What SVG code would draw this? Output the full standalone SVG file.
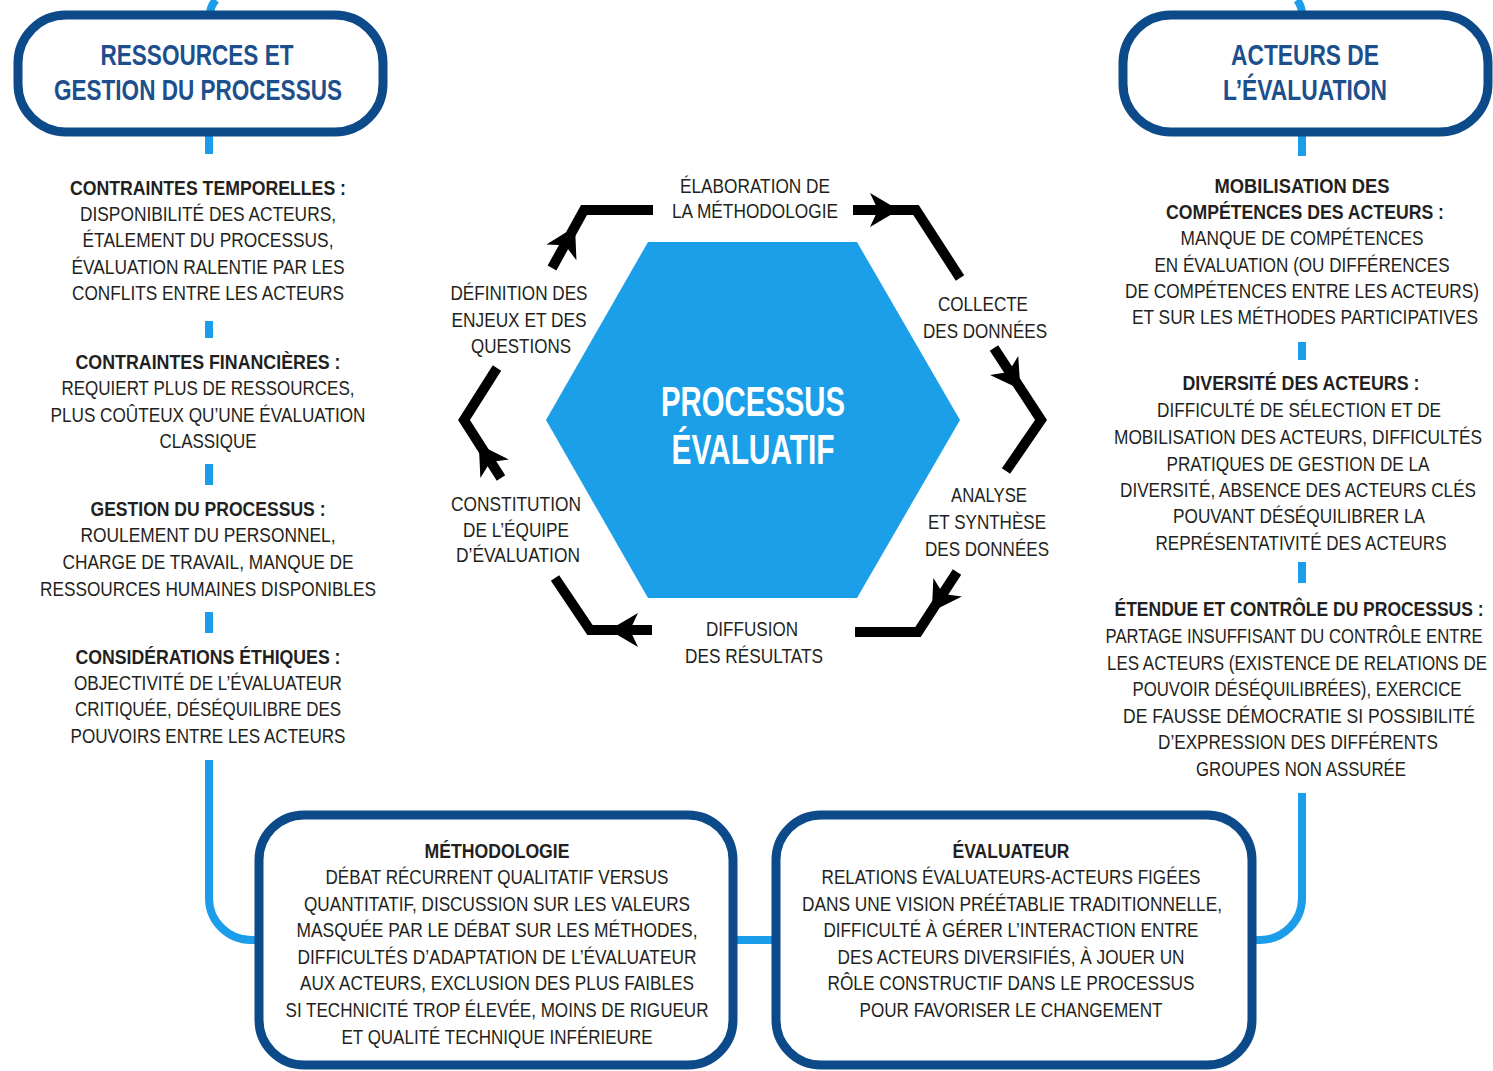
<svg xmlns="http://www.w3.org/2000/svg" width="1493" height="1071" viewBox="0 0 1493 1071">
<style>
.t{font-family:"Liberation Sans",Arial,sans-serif;font-size:20px;fill:#231f20;text-anchor:middle}
.b{font-weight:bold}
.h{font-family:"Liberation Sans",Arial,sans-serif;font-size:30px;font-weight:bold;fill:#1d4f8c;text-anchor:middle}
.w{font-family:"Liberation Sans",Arial,sans-serif;font-size:42px;font-weight:bold;fill:#ffffff;text-anchor:middle}
.box{fill:#ffffff;stroke:#0d4a8a;stroke-width:9}
.lb{fill:none;stroke:#1b9de9;stroke-width:8}
.arr{fill:none;stroke:#000000;stroke-width:10;stroke-linejoin:miter}
</style>
<defs>
<path id="ah" d="M15,0 L-14,-17 L-6,0 L-14,17 Z" fill="#000000"/>
</defs>
<rect width="1493" height="1071" fill="#ffffff"/>

<g id="connectors">
  <path class="lb" d="M216,0 Q210,6 210,15"/>
  <path class="lb" d="M209,132 V154"/>
  <path class="lb" d="M209,321 V338"/>
  <path class="lb" d="M209,464 V485"/>
  <path class="lb" d="M209,612 V633"/>
  <path class="lb" d="M209,760 V898 A42,42 0 0 0 251,940 H259"/>
  <path class="lb" d="M733,940 H776"/>
  <path class="lb" d="M1297,0 Q1302,6 1302,15"/>
  <path class="lb" d="M1302,132 V156"/>
  <path class="lb" d="M1302,342 V360"/>
  <path class="lb" d="M1302,562 V583"/>
  <path class="lb" d="M1302,793 V898 A42,42 0 0 1 1260,940 H1252"/>

  <path class="arr" d="M552,268 L584,210 H653"/>
  <use href="#ah" transform="translate(568,240) rotate(-62)"/>
  <path class="arr" d="M853,210 H916 L960,278"/>
  <use href="#ah" transform="translate(884,210)"/>
  <path class="arr" d="M994,348 L1041,420 L1006,471"/>
  <use href="#ah" transform="translate(1012,377) rotate(56)"/>
  <path class="arr" d="M957,572 L918,632 H855"/>
  <use href="#ah" transform="translate(940,599) rotate(123)"/>
  <path class="arr" d="M652,630 H590 L555,578"/>
  <use href="#ah" transform="translate(624,630) rotate(180)"/>
  <path class="arr" d="M501,478 L464,420 L497,368"/>
  <use href="#ah" transform="translate(487,457) rotate(237)"/>
</g>

<g id="node-ressources">
  <rect class="box" x="18" y="15" width="365" height="117" rx="48"/>
  <text class="h" x="197" y="65" textLength="193" lengthAdjust="spacingAndGlyphs">RESSOURCES ET</text>
  <text class="h" x="198" y="100" textLength="288" lengthAdjust="spacingAndGlyphs">GESTION DU PROCESSUS</text>
</g>

<g id="node-acteurs">
  <rect class="box" x="1123" y="15" width="365" height="117" rx="48"/>
  <text class="h" x="1305" y="65" textLength="148" lengthAdjust="spacingAndGlyphs">ACTEURS DE</text>
  <text class="h" x="1305" y="100" textLength="164" lengthAdjust="spacingAndGlyphs">L’ÉVALUATION</text>
</g>

<g id="node-processus">
  <polygon points="546,420 648,242 857,242 960,420 857,598 648,598" fill="#1a9fe8"/>
  <text class="w" x="753" y="416" textLength="184" lengthAdjust="spacingAndGlyphs">PROCESSUS</text>
  <text class="w" x="753" y="464" textLength="163" lengthAdjust="spacingAndGlyphs">ÉVALUATIF</text>
</g>

<g id="node-elaboration">
  <text class="t" x="755" y="193" textLength="150" lengthAdjust="spacingAndGlyphs">ÉLABORATION DE</text>
  <text class="t" x="755" y="218" textLength="166" lengthAdjust="spacingAndGlyphs">LA MÉTHODOLOGIE</text>
</g>
<g id="node-collecte">
  <text class="t" x="983" y="311" textLength="90" lengthAdjust="spacingAndGlyphs">COLLECTE</text>
  <text class="t" x="985" y="338" textLength="124" lengthAdjust="spacingAndGlyphs">DES DONNÉES</text>
</g>
<g id="node-analyse">
  <text class="t" x="989" y="502" textLength="76" lengthAdjust="spacingAndGlyphs">ANALYSE</text>
  <text class="t" x="987" y="529" textLength="118" lengthAdjust="spacingAndGlyphs">ET SYNTHÈSE</text>
  <text class="t" x="987" y="556" textLength="124" lengthAdjust="spacingAndGlyphs">DES DONNÉES</text>
</g>
<g id="node-diffusion">
  <text class="t" x="752" y="636" textLength="92" lengthAdjust="spacingAndGlyphs">DIFFUSION</text>
  <text class="t" x="754" y="663" textLength="138" lengthAdjust="spacingAndGlyphs">DES RÉSULTATS</text>
</g>
<g id="node-constitution">
  <text class="t" x="516" y="511" textLength="130" lengthAdjust="spacingAndGlyphs">CONSTITUTION</text>
  <text class="t" x="516" y="537" textLength="106" lengthAdjust="spacingAndGlyphs">DE L’ÉQUIPE</text>
  <text class="t" x="518" y="562" textLength="124" lengthAdjust="spacingAndGlyphs">D’ÉVALUATION</text>
</g>
<g id="node-definition">
  <text class="t" x="519" y="300" textLength="137" lengthAdjust="spacingAndGlyphs">DÉFINITION DES</text>
  <text class="t" x="519" y="327" textLength="135" lengthAdjust="spacingAndGlyphs">ENJEUX ET DES</text>
  <text class="t" x="521" y="353" textLength="100" lengthAdjust="spacingAndGlyphs">QUESTIONS</text>
</g>

<g id="node-left-list">
  <text class="t b" x="208" y="195" textLength="276" lengthAdjust="spacingAndGlyphs">CONTRAINTES TEMPORELLES :</text>
  <text class="t" x="208" y="221" textLength="256" lengthAdjust="spacingAndGlyphs">DISPONIBILITÉ DES ACTEURS,</text>
  <text class="t" x="208" y="247" textLength="251" lengthAdjust="spacingAndGlyphs">ÉTALEMENT DU PROCESSUS,</text>
  <text class="t" x="208" y="274" textLength="273" lengthAdjust="spacingAndGlyphs">ÉVALUATION RALENTIE PAR LES</text>
  <text class="t" x="208" y="300" textLength="272" lengthAdjust="spacingAndGlyphs">CONFLITS ENTRE LES ACTEURS</text>
  <text class="t b" x="208" y="369" textLength="265" lengthAdjust="spacingAndGlyphs">CONTRAINTES FINANCIÈRES :</text>
  <text class="t" x="208" y="395" textLength="293" lengthAdjust="spacingAndGlyphs">REQUIERT PLUS DE RESSOURCES,</text>
  <text class="t" x="208" y="422" textLength="315" lengthAdjust="spacingAndGlyphs">PLUS COÛTEUX QU’UNE ÉVALUATION</text>
  <text class="t" x="208" y="448" textLength="97" lengthAdjust="spacingAndGlyphs">CLASSIQUE</text>
  <text class="t b" x="208" y="516" textLength="235" lengthAdjust="spacingAndGlyphs">GESTION DU PROCESSUS :</text>
  <text class="t" x="208" y="542" textLength="255" lengthAdjust="spacingAndGlyphs">ROULEMENT DU PERSONNEL,</text>
  <text class="t" x="208" y="569" textLength="291" lengthAdjust="spacingAndGlyphs">CHARGE DE TRAVAIL, MANQUE DE</text>
  <text class="t" x="208" y="596" textLength="336" lengthAdjust="spacingAndGlyphs">RESSOURCES HUMAINES DISPONIBLES</text>
  <text class="t b" x="208" y="664" textLength="265" lengthAdjust="spacingAndGlyphs">CONSIDÉRATIONS ÉTHIQUES :</text>
  <text class="t" x="208" y="690" textLength="268" lengthAdjust="spacingAndGlyphs">OBJECTIVITÉ DE L’ÉVALUATEUR</text>
  <text class="t" x="208" y="716" textLength="266" lengthAdjust="spacingAndGlyphs">CRITIQUÉE, DÉSÉQUILIBRE DES</text>
  <text class="t" x="208" y="743" textLength="275" lengthAdjust="spacingAndGlyphs">POUVOIRS ENTRE LES ACTEURS</text>
</g>

<g id="node-right-list" transform="translate(1302,0) scale(0.85,1)">
  <text class="t b" x="0" y="193" textLength="205.9" lengthAdjust="spacingAndGlyphs">MOBILISATION DES</text>
  <text class="t b" x="3.5" y="219" textLength="327.1" lengthAdjust="spacingAndGlyphs">COMPÉTENCES DES ACTEURS :</text>
  <text class="t" x="0" y="245" textLength="285.9" lengthAdjust="spacingAndGlyphs">MANQUE DE COMPÉTENCES</text>
  <text class="t" x="0" y="272" textLength="347.1" lengthAdjust="spacingAndGlyphs">EN ÉVALUATION (OU DIFFÉRENCES</text>
  <text class="t" x="0" y="298" textLength="416.5" lengthAdjust="spacingAndGlyphs">DE COMPÉTENCES ENTRE LES ACTEURS)</text>
  <text class="t" x="3.5" y="324" textLength="407.1" lengthAdjust="spacingAndGlyphs">ET SUR LES MÉTHODES PARTICIPATIVES</text>
  <text class="t b" x="-1.2" y="390" textLength="278.8" lengthAdjust="spacingAndGlyphs">DIVERSITÉ DES ACTEURS :</text>
  <text class="t" x="-3.5" y="417" textLength="334.1" lengthAdjust="spacingAndGlyphs">DIFFICULTÉ DE SÉLECTION ET DE</text>
  <text class="t" x="-4.7" y="444" textLength="432.9" lengthAdjust="spacingAndGlyphs">MOBILISATION DES ACTEURS, DIFFICULTÉS</text>
  <text class="t" x="-4.7" y="471" textLength="309.4" lengthAdjust="spacingAndGlyphs">PRATIQUES DE GESTION DE LA</text>
  <text class="t" x="-4.7" y="497" textLength="418.8" lengthAdjust="spacingAndGlyphs">DIVERSITÉ, ABSENCE DES ACTEURS CLÉS</text>
  <text class="t" x="-3.5" y="523" textLength="296.5" lengthAdjust="spacingAndGlyphs">POUVANT DÉSÉQUILIBRER LA</text>
  <text class="t" x="-1.2" y="550" textLength="342.4" lengthAdjust="spacingAndGlyphs">REPRÉSENTATIVITÉ DES ACTEURS</text>
  <text class="t b" x="-3.5" y="616" textLength="434.1" lengthAdjust="spacingAndGlyphs">ÉTENDUE ET CONTRÔLE DU PROCESSUS :</text>
  <text class="t" x="-9.4" y="643" textLength="443.5" lengthAdjust="spacingAndGlyphs">PARTAGE INSUFFISANT DU CONTRÔLE ENTRE</text>
  <text class="t" x="-5.9" y="670" textLength="447.1" lengthAdjust="spacingAndGlyphs">LES ACTEURS (EXISTENCE DE RELATIONS DE</text>
  <text class="t" x="-5.9" y="696" textLength="387.1" lengthAdjust="spacingAndGlyphs">POUVOIR DÉSÉQUILIBRÉES), EXERCICE</text>
  <text class="t" x="-3.5" y="723" textLength="414.1" lengthAdjust="spacingAndGlyphs">DE FAUSSE  DÉMOCRATIE SI POSSIBILITÉ</text>
  <text class="t" x="-4.7" y="749" textLength="329.4" lengthAdjust="spacingAndGlyphs">D’EXPRESSION DES DIFFÉRENTS</text>
  <text class="t" x="-1.2" y="776" textLength="247.1" lengthAdjust="spacingAndGlyphs">GROUPES NON ASSURÉE</text>
</g>

<g id="node-methodologie">
  <rect class="box" x="259" y="815" width="474" height="250" rx="45"/>
  <text class="t b" x="497" y="858" textLength="145" lengthAdjust="spacingAndGlyphs">MÉTHODOLOGIE</text>
  <text class="t" x="497" y="884" textLength="343" lengthAdjust="spacingAndGlyphs">DÉBAT RÉCURRENT QUALITATIF VERSUS</text>
  <text class="t" x="497" y="911" textLength="386" lengthAdjust="spacingAndGlyphs">QUANTITATIF, DISCUSSION SUR LES VALEURS</text>
  <text class="t" x="497" y="937" textLength="401" lengthAdjust="spacingAndGlyphs">MASQUÉE PAR LE DÉBAT SUR LES MÉTHODES,</text>
  <text class="t" x="497" y="964" textLength="399" lengthAdjust="spacingAndGlyphs">DIFFICULTÉS D’ADAPTATION DE L’ÉVALUATEUR</text>
  <text class="t" x="497" y="990" textLength="394" lengthAdjust="spacingAndGlyphs">AUX ACTEURS, EXCLUSION DES PLUS FAIBLES</text>
  <text class="t" x="497" y="1017" textLength="423" lengthAdjust="spacingAndGlyphs">SI TECHNICITÉ TROP ÉLEVÉE, MOINS DE RIGUEUR</text>
  <text class="t" x="497" y="1044" textLength="311" lengthAdjust="spacingAndGlyphs">ET QUALITÉ TECHNIQUE INFÉRIEURE</text>
</g>

<g id="node-evaluateur">
  <rect class="box" x="776" y="815" width="476" height="250" rx="45"/>
  <text class="t b" x="1011" y="858" textLength="117" lengthAdjust="spacingAndGlyphs">ÉVALUATEUR</text>
  <text class="t" x="1011" y="884" textLength="379" lengthAdjust="spacingAndGlyphs">RELATIONS ÉVALUATEURS-ACTEURS FIGÉES</text>
  <text class="t" x="1012" y="911" textLength="420" lengthAdjust="spacingAndGlyphs">DANS UNE VISION PRÉÉTABLIE TRADITIONNELLE,</text>
  <text class="t" x="1011" y="937" textLength="375" lengthAdjust="spacingAndGlyphs">DIFFICULTÉ À GÉRER L’INTERACTION ENTRE</text>
  <text class="t" x="1011" y="964" textLength="347" lengthAdjust="spacingAndGlyphs">DES ACTEURS DIVERSIFIÉS, À JOUER UN</text>
  <text class="t" x="1011" y="990" textLength="367" lengthAdjust="spacingAndGlyphs">RÔLE CONSTRUCTIF DANS LE PROCESSUS</text>
  <text class="t" x="1011" y="1017" textLength="303" lengthAdjust="spacingAndGlyphs">POUR FAVORISER LE CHANGEMENT</text>
</g>
</svg>
